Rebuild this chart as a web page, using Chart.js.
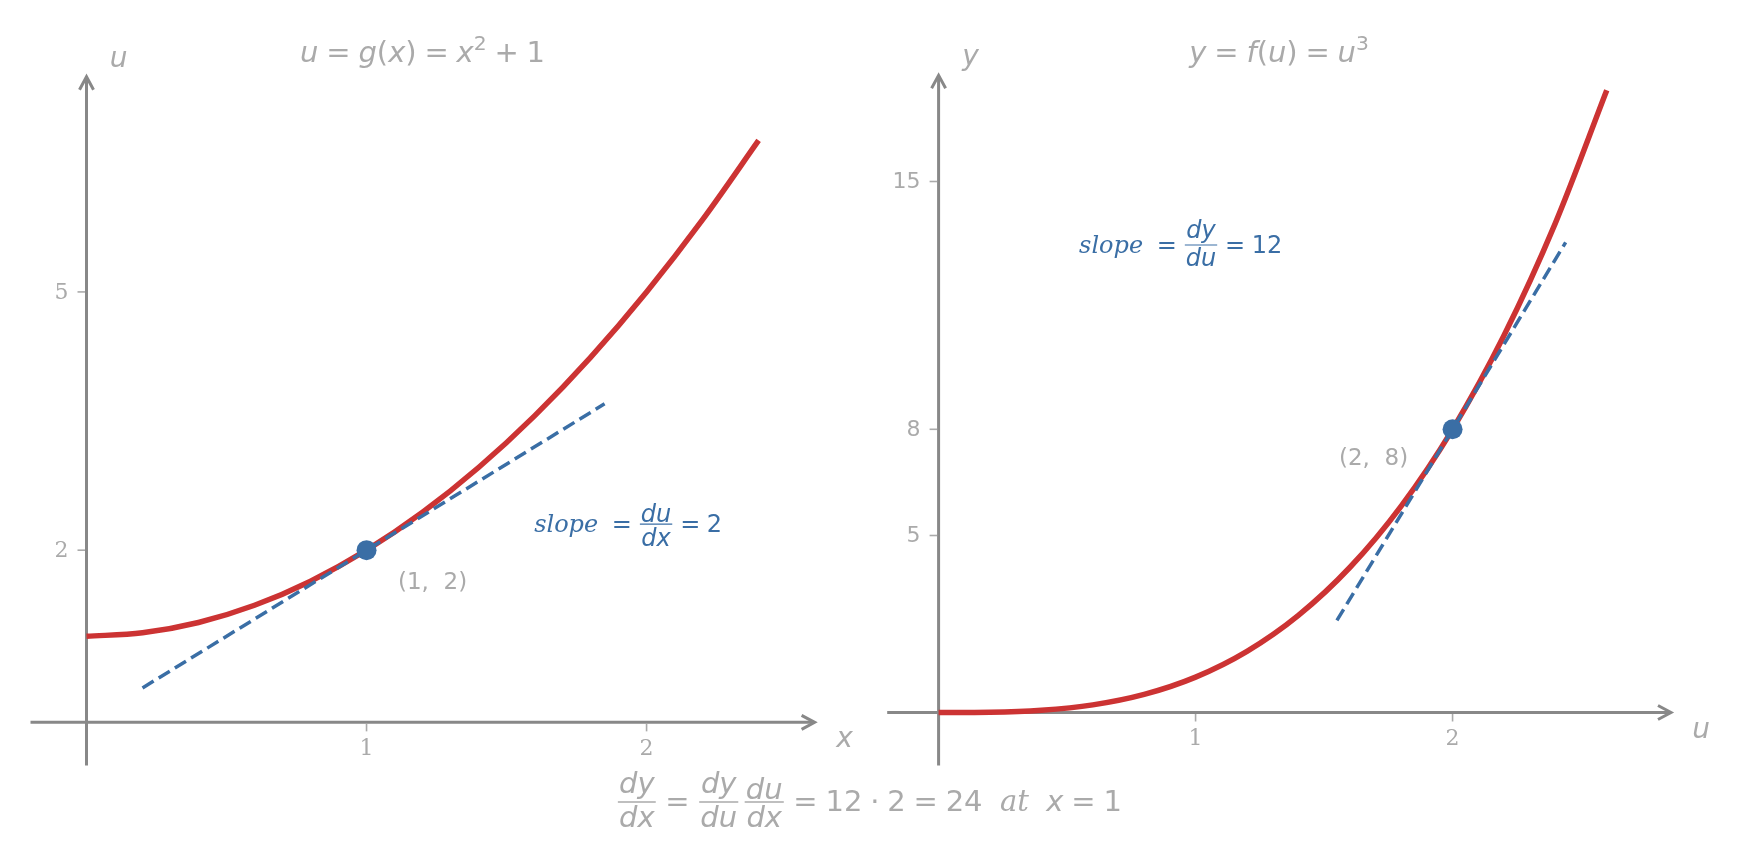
<!DOCTYPE html>
<html>
<head>
<meta charset="utf-8">
<script src="https://cdn.jsdelivr.net/npm/chart.js@4.4.1/dist/chart.umd.min.js"></script>
<style>
  html, body { margin: 0; padding: 0; background: #fff; }
  #wrap { position: relative; width: 1741px; height: 864px; }
  canvas { position: absolute; left: 0; top: 0; }
</style>
</head>
<body>
<div id="wrap">
  <canvas id="chartG" width="1741" height="864"></canvas>
  <canvas id="chartF" width="1741" height="864"></canvas>
</div>
<script>
// left panel: u = g(x) = x^2 + 1
const gX = [0, 0.2, 0.4, 0.6, 0.8, 1.0, 1.2, 1.4, 1.6, 1.8, 2.0, 2.2, 2.4];
const gU = [1, 1.04, 1.16, 1.36, 1.64, 2, 2.44, 2.96, 3.56, 4.24, 5, 5.84, 6.76];
const gTangentX = [0.2, 1.85];
const gTangentU = [0.4, 3.7];
const gPoint = [1, 2];
const gXTicks = [1, 2];
const gUTicks = [2, 5];
const gXRange = [-0.2, 2.6];
const gURange = [-0.5, 7.5];

// right panel: y = f(u) = u^3
const fU = [0, 0.2, 0.4, 0.6, 0.8, 1.0, 1.2, 1.4, 1.6, 1.8, 2.0, 2.2, 2.4, 2.6];
const fY = [0, 0.008, 0.064, 0.216, 0.512, 1, 1.728, 2.744, 4.096, 5.832, 8, 10.648, 13.824, 17.576];
const fTangentU = [1.55, 2.44];
const fTangentY = [2.6, 13.28];
const fPoint = [2, 8];
const fUTicks = [1, 2];
const fYTicks = [5, 8, 15];
const fURange = [-0.2, 2.85];
const fYRange = [-1.5, 18];

const RED = "#cc3333";
const BLUE = "#3a6ea5";
const AXIS = "#888888";
const GRAY = "#aaaaaa";
const SANS = '"DejaVu Sans", sans-serif';
const SERIF = '"DejaVu Serif", serif';

const toXY = (xs, ys) => xs.map((v, i) => ({x: v, y: ys[i]}));

// --- small math text helper (tokens: text, italic, serif, sup, frac, space)
function fontOf(tok, fs) {
    const size = fs * (tok.sup ? 0.7 : 1);
    return (tok.it ? "italic " : "") + size + "px " + (tok.serif ? SERIF : SANS);
}
function tokWidth(ctx, tok, fs) {
    if (tok.sp != null) return tok.sp * fs;
    if (tok.frac) return Math.max(runWidth(ctx, tok.frac[0], fs), runWidth(ctx, tok.frac[1], fs)) + 0.2 * fs;
    ctx.font = fontOf(tok, fs);
    return ctx.measureText(tok.t).width + 2 * (tok.pad || 0) * fs;
}
function runWidth(ctx, run, fs) {
    return run.reduce((s, t) => s + tokWidth(ctx, t, fs), 0);
}
function runInk(ctx, run, fs) {
    let asc = 0, desc = 0;
    run.forEach(t => {
        if (t.t == null) return;
        ctx.font = fontOf(t, fs);
        const m = ctx.measureText(t.t);
        asc = Math.max(asc, m.actualBoundingBoxAscent);
        desc = Math.max(desc, m.actualBoundingBoxDescent);
    });
    return {asc, desc};
}
function drawRun(ctx, run, left, base, fs) {
    let x = left;
    run.forEach(tok => {
        const w = tokWidth(ctx, tok, fs);
        if (tok.frac) {
            ctx.font = "" + fs + "px " + SANS;
            const m = ctx.measureText("=");
            const barY = base - (m.actualBoundingBoxAscent - m.actualBoundingBoxDescent) / 2;
            const [num, den] = tok.frac;
            const wn = runWidth(ctx, num, fs), wd = runWidth(ctx, den, fs);
            const gap = 0.1 * fs;
            drawRun(ctx, num, x + (w - wn) / 2, barY - gap - runInk(ctx, num, fs).desc, fs);
            drawRun(ctx, den, x + (w - wd) / 2, barY + gap + runInk(ctx, den, fs).asc, fs);
            ctx.save();
            ctx.strokeStyle = ctx.fillStyle;
            ctx.lineWidth = Math.max(1, fs * 0.045);
            ctx.beginPath();
            ctx.moveTo(x + 0.06 * fs, barY);
            ctx.lineTo(x + w - 0.06 * fs, barY);
            ctx.stroke();
            ctx.restore();
        } else if (tok.t != null) {
            ctx.font = fontOf(tok, fs);
            ctx.fillText(tok.t, x + (tok.pad || 0) * fs, tok.sup ? base - 0.4 * fs : base);
        }
        x += w;
    });
}
function drawMath(ctx, run, cx, base, fs, color) {
    ctx.save();
    ctx.fillStyle = color;
    ctx.textAlign = "left";
    ctx.textBaseline = "alphabetic";
    drawRun(ctx, run, cx - runWidth(ctx, run, fs) / 2, base, fs);
    ctx.restore();
}
const I = t => ({t: t, it: true});
const R = t => ({t: t});
const OP = t => ({t: t, pad: 0.27});
const SUP = t => ({t: t, sup: true});
const FR = (a, b) => ({frac: [a, b]});

function drawAxes(chart, p) {
    const {ctx, scales: {x, y}} = chart;
    const x0 = x.getPixelForValue(0), y0 = y.getPixelForValue(0);
    const xL = x.getPixelForValue(x.min), xR = x.getPixelForValue(x.max);
    const yB = y.getPixelForValue(y.min), yT = y.getPixelForValue(y.max);
    ctx.save();
    ctx.strokeStyle = AXIS;
    ctx.lineWidth = 3;
    ctx.beginPath();
    ctx.moveTo(xL, y0); ctx.lineTo(xR - 1, y0);
    ctx.moveTo(x0, yB); ctx.lineTo(x0, yT + 1);
    ctx.stroke();
    ctx.beginPath();
    ctx.moveTo(xR - 13, y0 - 7); ctx.lineTo(xR, y0); ctx.lineTo(xR - 13, y0 + 7);
    ctx.moveTo(x0 - 7, yT + 13); ctx.lineTo(x0, yT); ctx.lineTo(x0 + 7, yT + 13);
    ctx.stroke();

    ctx.strokeStyle = GRAY;
    ctx.lineWidth = 1.6;
    ctx.fillStyle = GRAY;
    ctx.textBaseline = "middle";
    p.xTicks.forEach(v => {
        const px = x.getPixelForValue(v);
        ctx.beginPath(); ctx.moveTo(px, y0 + 1.5); ctx.lineTo(px, y0 + 9); ctx.stroke();
        ctx.font = "22px " + SERIF;
        ctx.textAlign = "center";
        ctx.fillText(String(v), px, y0 + 27);
    });
    p.yTicks.forEach(v => {
        const py = y.getPixelForValue(v);
        ctx.beginPath(); ctx.moveTo(x0 - 9, py); ctx.lineTo(x0 - 1.5, py); ctx.stroke();
        ctx.font = "22px " + p.yTickFont;
        ctx.textAlign = "right";
        ctx.fillText(String(v), x0 - 18, py + 1);
    });
    ctx.restore();
}

function drawTexts(chart, p) {
    const {ctx, chartArea, scales: {x, y}} = chart;
    const x0 = x.getPixelForValue(0), y0 = y.getPixelForValue(0);
    const xR = x.getPixelForValue(x.max), yT = y.getPixelForValue(y.max);
    drawMath(ctx, p.title, (chartArea.left + chartArea.right) / 2, 62, 29, GRAY);
    drawMath(ctx, [I(p.yName)], x0 + 32, yT - 10, 28, GRAY);
    drawMath(ctx, [I(p.xName)], xR + 30, y0 + 25, 28, GRAY);
    drawMath(ctx, p.slope, x.getPixelForValue(p.slopeAt[0]), y.getPixelForValue(p.slopeAt[1]), 24, BLUE);

    const px = x.getPixelForValue(p.point[0]), py = y.getPixelForValue(p.point[1]);
    ctx.save();
    ctx.fillStyle = GRAY;
    ctx.font = "23px " + SANS;
    ctx.textAlign = "center";
    ctx.textBaseline = "middle";
    ctx.fillText("(" + p.point[0] + ",  " + p.point[1] + ")", px + p.labelOffset[0], py + p.labelOffset[1] + 2);
    ctx.restore();
    if (p.footer) drawMath(ctx, p.footer, 869, 811, 29, GRAY);
}

function makePanel(id, d) {
    return new Chart(document.getElementById(id), {
        type: "line",
        data: {
            datasets: [
                {
                    data: [{x: d.point[0], y: d.point[1]}],
                    showLine: false,
                    pointRadius: 10,
                    pointBackgroundColor: BLUE,
                    pointBorderWidth: 0,
                    order: 0
                },
                {
                    data: toXY(d.tanX, d.tanY),
                    borderColor: BLUE,
                    borderWidth: 3.5,
                    borderDash: [13, 6],
                    borderCapStyle: "butt",
                    pointRadius: 0,
                    fill: false,
                    order: 1
                },
                {
                    data: toXY(d.curveX, d.curveY),
                    borderColor: RED,
                    borderWidth: 5.5,
                    borderCapStyle: "butt",
                    cubicInterpolationMode: "monotone",
                    pointRadius: 0,
                    fill: false,
                    order: 2
                }
            ]
        },
        options: {
            responsive: false,
            animation: false,
            events: [],
            layout: {padding: d.padding},
            scales: {
                x: {type: "linear", min: d.xRange[0], max: d.xRange[1], display: false},
                y: {type: "linear", min: d.yRange[0], max: d.yRange[1], display: false}
            },
            plugins: {legend: {display: false}, tooltip: {enabled: false}},
            clip: false
        },
        plugins: [{
            id: "panel_" + id,
            beforeDatasetsDraw(chart) { drawAxes(chart, d); },
            afterDatasetsDraw(chart) { drawTexts(chart, d); }
        }]
    });
}

makePanel("chartG", {
    curveX: gX, curveY: gU,
    tanX: gTangentX, tanY: gTangentU,
    point: gPoint,
    xTicks: gXTicks, yTicks: gUTicks,
    xRange: gXRange, yRange: gURange,
    yTickFont: SERIF,
    xName: "x", yName: "u",
    padding: {left: 30.5, right: 926.4, top: 76.7, bottom: 98.6},
    title: [I("u"), OP("="), I("g"), R("("), I("x"), R(")"), OP("="), I("x"), SUP("2"), OP("+"), R("1")],
    slope: [{t: "slope", it: true, serif: true}, {sp: 0.3}, OP("="), FR([I("d"), I("u")], [I("d"), I("x")]), OP("="), R("2")],
    slopeAt: [1.934, 2.21],
    labelOffset: [66, 31]
});

makePanel("chartF", {
    curveX: fU, curveY: fY,
    tanX: fTangentU, tanY: fTangentY,
    point: fPoint,
    xTicks: fUTicks, yTicks: fYTicks,
    xRange: fURange, yRange: fYRange,
    yTickFont: SANS,
    xName: "u", yName: "y",
    padding: {left: 887.2, right: 70, top: 75.3, bottom: 98.4},
    title: [I("y"), OP("="), I("f"), R("("), I("u"), R(")"), OP("="), I("u"), SUP("3")],
    slope: [{t: "slope", it: true, serif: true}, {sp: 0.3}, OP("="), FR([I("d"), I("y")], [I("d"), I("u")]), OP("="), R("12")],
    slopeAt: [0.942, 12.98],
    labelOffset: [-79, 28],
    footer: [
        FR([I("d"), I("y")], [I("d"), I("x")]), OP("="),
        FR([I("d"), I("y")], [I("d"), I("u")]), {sp: 0.1},
        FR([I("d"), I("u")], [I("d"), I("x")]), OP("="),
        R("12"), OP("\u00b7"), R("2"), OP("="), R("24"), {sp: 0.6},
        {t: "at", it: true, serif: true}, {sp: 0.6},
        I("x"), OP("="), R("1")
    ]
});
</script>
</body>
</html>
